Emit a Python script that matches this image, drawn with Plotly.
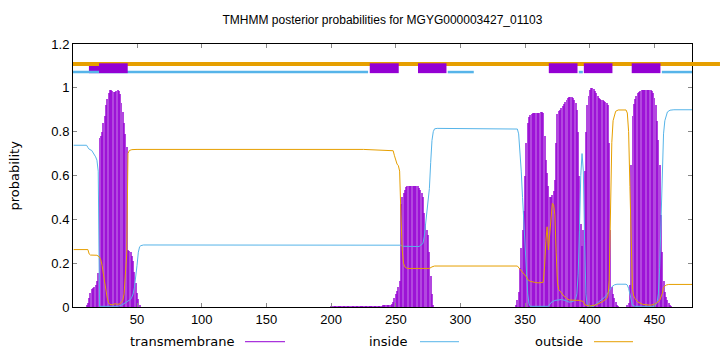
import plotly.graph_objects as go

# ---------------- data ----------------
seq_len = 479

# transmembrane posterior probability per residue (impulses)
tm_a_start = 11
tm_a_vals = [0.01, 0.02, 0.04, 0.065, 0.08, 0.088, 0.092, 0.10, 0.12, 0.155,
             0.77, 0.78, 0.80, 0.84, 0.87, 0.92, 0.95, 0.975, 0.99, 0.99,
             0.985, 0.983, 0.98, 0.985, 0.99, 0.985, 0.97, 0.93, 0.89, 0.84,
             0.79, 0.73, 0.26, 0.257, 0.25, 0.235, 0.21, 0.16, 0.11, 0.065,
             0.035, 0.01]

tm_b_start = 200
tm_b_vals = [0.003, 0.003, 0.003, 0.003, 0.003, 0.003, 0.003, 0.003, 0.003, 0.003,
             0.004, 0.004, 0.004, 0.004, 0.004, 0.004, 0.004, 0.004, 0.004, 0.004,
             0.004, 0.004, 0.004, 0.004, 0.004, 0.004, 0.004, 0.004, 0.004, 0.004,
             0.004, 0.004, 0.004, 0.004, 0.004, 0.004, 0.004, 0.004, 0.004, 0.004,
             0.005, 0.005, 0.006, 0.006, 0.007, 0.008, 0.01, 0.015, 0.025, 0.04,
             0.06, 0.075, 0.09, 0.12, 0.47, 0.50, 0.52, 0.535, 0.548, 0.552,
             0.553, 0.553, 0.553, 0.553, 0.552, 0.552, 0.551, 0.55, 0.545, 0.535,
             0.52, 0.50, 0.43, 0.38, 0.35, 0.33, 0.25, 0.14, 0.06, 0.01]

tm_c_start = 343
tm_c_vals = [0.01, 0.03, 0.07, 0.18, 0.27, 0.35, 0.44, 0.60, 0.75, 0.84,
             0.865, 0.878, 0.882, 0.884, 0.884, 0.884, 0.885, 0.885, 0.886, 0.888,
             0.888, 0.885, 0.78, 0.67, 0.61, 0.55, 0.50, 0.50, 0.51, 0.53,
             0.58, 0.75, 0.88, 0.895, 0.90, 0.91, 0.918, 0.925, 0.935, 0.945,
             0.952, 0.957, 0.96, 0.958, 0.953, 0.945, 0.93, 0.90, 0.80, 0.60,
             0.38, 0.28, 0.35, 0.62, 0.80, 0.92, 0.965, 0.99, 0.997, 0.998,
             0.995, 0.985, 0.975, 0.965, 0.955, 0.95, 0.946, 0.943, 0.94, 0.936,
             0.93, 0.92, 0.75, 0.35, 0.09, 0.06, 0.04, 0.025, 0.01, 0.003]

tm_d_start = 429
tm_d_vals = [0.005, 0.02, 0.10, 0.65, 0.87, 0.925, 0.95, 0.965, 0.975, 0.98,
             0.985, 0.988, 0.99, 0.991, 0.991, 0.991, 0.991, 0.99, 0.988, 0.985,
             0.976, 0.955, 0.92, 0.85, 0.76, 0.65, 0.42, 0.25, 0.12, 0.07,
             0.045, 0.03, 0.018, 0.01, 0.004]

# inside probability (line), sampled residues
inside_pos = [1, 11, 12, 13, 15, 16, 18, 19, 20, 21, 35, 38, 41, 43, 45, 46, 47, 48,
              49, 50, 51, 52, 53, 55, 254, 255, 268, 270, 271, 272, 273, 274, 275,
              276, 277, 278, 279, 280, 282, 343, 344, 345, 346, 347, 348, 349, 350,
              351, 352, 353, 354, 368, 370, 373, 378, 381, 384, 387, 389, 390, 391,
              392, 393, 394, 395, 396, 397, 398, 403, 405, 408, 411, 413, 415, 417,
              419, 421, 428, 429, 430, 431, 432, 433, 435, 450, 452, 453, 454, 455,
              456, 457, 458, 459, 460, 462, 465, 479]
inside_val = [0.738, 0.738, 0.728, 0.72, 0.714, 0.705, 0.685, 0.67, 0.62, 0.003,
              0.003, 0.008, 0.02, 0.025, 0.035, 0.045, 0.06, 0.09, 0.13, 0.19,
              0.25, 0.275, 0.28, 0.283, 0.282, 0.277, 0.276, 0.285, 0.29, 0.32,
              0.38, 0.43, 0.48, 0.54, 0.66, 0.76, 0.80, 0.813, 0.815, 0.815,
              0.812, 0.79, 0.72, 0.62, 0.50, 0.40, 0.27, 0.15, 0.06, 0.015,
              0.003, 0.003, 0.02, 0.03, 0.034, 0.03, 0.022, 0.025, 0.035, 0.06,
              0.15, 0.35, 0.60, 0.70, 0.62, 0.30, 0.06, 0.005, 0.003, 0.015,
              0.028, 0.042, 0.055, 0.075, 0.092, 0.101, 0.104, 0.104, 0.10, 0.085,
              0.055, 0.025, 0.008, 0.003, 0.003, 0.02, 0.06, 0.18, 0.40, 0.64,
              0.79, 0.85, 0.875, 0.89, 0.898, 0.9, 0.9]

# outside probability (line), sampled residues
outside_pos = [1, 12, 13, 14, 19, 20, 21, 22, 23, 24, 25, 26, 27, 28, 29, 31, 33, 35,
               37, 39, 40, 41, 42, 43, 44, 46, 50, 225, 245, 248, 249, 250, 251, 252,
               253, 254, 255, 256, 257, 259, 276, 278, 280, 344, 345, 347, 349, 351,
               352, 354, 357, 360, 364, 365, 366, 367, 368, 369, 370, 371, 372, 373,
               374, 375, 376, 378, 380, 382, 384, 392, 395, 396, 400, 405, 410, 413,
               414, 415, 416, 417, 418, 419, 420, 422, 428, 429, 430, 431, 432, 433,
               434, 435, 437, 441, 447, 451, 454, 456, 457, 459, 461, 479]
outside_val = [0.262, 0.262, 0.242, 0.237, 0.236, 0.232, 0.228, 0.215, 0.19, 0.15,
               0.11, 0.075, 0.04, 0.02, 0.012, 0.01, 0.015, 0.012, 0.015, 0.03,
               0.06, 0.15, 0.24, 0.70, 0.714, 0.718, 0.719, 0.719, 0.716, 0.713,
               0.69, 0.665, 0.652, 0.645, 0.62, 0.42, 0.26, 0.20, 0.183, 0.176,
               0.176, 0.183, 0.187, 0.187, 0.18, 0.17, 0.155, 0.137, 0.125, 0.117,
               0.113, 0.11, 0.113, 0.18, 0.30, 0.366, 0.26, 0.33, 0.44, 0.473,
               0.468, 0.42, 0.25, 0.11, 0.08, 0.063, 0.05, 0.04, 0.032, 0.03,
               0.025, 0.01, 0.004, 0.01, 0.025, 0.038, 0.05, 0.12, 0.45, 0.75,
               0.85, 0.88, 0.893, 0.899, 0.899, 0.885, 0.80, 0.55, 0.28, 0.08,
               0.05, 0.038, 0.023, 0.012, 0.008, 0.015, 0.03, 0.061, 0.09, 0.1,
               0.103, 0.103]

# predicted topology bars at the top (start, end in residues)
tm_boxes = [(20.6, 42.8), (229.9, 252.3), (267.2, 289.2), (368.3, 390.5),
            (395.4, 417.5), (432.4, 454.6)]
tm_box_under = [(12.8, 20.6)]
inside_bars = [(0.5, 228.6), (290.2, 310.3), (391.5, 394.6), (455.7, 479.0)]
outside_bar_level = 1.109
inside_bar_level = 1.072
tm_box_low, tm_box_high = 1.067, 1.112

x_ticks = [50, 100, 150, 200, 250, 300, 350, 400, 450]
y_ticks = [0, 0.2, 0.4, 0.6, 0.8, 1.0, 1.2]
y_tick_text = ["0", "0.2", "0.4", "0.6", "0.8", "1", "1.2"]

title_text = "TMHMM posterior probabilities for MGYG000003427_01103"
legend_names = ["transmembrane", "inside", "outside"]

# ---------------- styling ----------------
C_TM = "#9400D3"
C_IN = "#56B4E9"
C_OUT = "#E69F00"
FONT = "Liberation Sans"
FONT2 = "DejaVu Sans"

tm_pos, tm_val = [], []
for start, vals in [(tm_a_start, tm_a_vals), (tm_b_start, tm_b_vals),
                    (tm_c_start, tm_c_vals), (tm_d_start, tm_d_vals)]:
    tm_pos += list(range(start, start + len(vals)))
    tm_val += vals

fig = go.Figure()
fig.add_trace(go.Bar(x=tm_pos, y=tm_val, width=0.75,
                     marker=dict(color=C_TM, opacity=0.72, line=dict(width=0)),
                     showlegend=False, hoverinfo="skip"))
fig.add_trace(go.Scatter(x=inside_pos, y=inside_val, mode="lines",
                         line=dict(color=C_IN, width=1), showlegend=False))
fig.add_trace(go.Scatter(x=outside_pos, y=outside_val, mode="lines",
                         line=dict(color=C_OUT, width=1), showlegend=False))

shapes = []
for s, e in tm_box_under:
    shapes.append(dict(type="rect", xref="x", yref="y", x0=s, x1=e,
                       y0=tm_box_low, y1=tm_box_high, fillcolor=C_TM,
                       line=dict(width=0), layer="above"))
shapes.append(dict(type="line", xref="paper", yref="y", x0=0, x1=1.0452,
                   y0=outside_bar_level, y1=outside_bar_level,
                   line=dict(color=C_OUT, width=4), layer="above"))
for s, e in inside_bars:
    shapes.append(dict(type="line", xref="x", yref="y", x0=s, x1=e,
                       y0=inside_bar_level, y1=inside_bar_level,
                       line=dict(color=C_IN, width=2.5), layer="above"))
for s, e in tm_boxes:
    shapes.append(dict(type="rect", xref="x", yref="y", x0=s, x1=e,
                       y0=tm_box_low, y1=tm_box_high, fillcolor=C_TM,
                       line=dict(width=0), layer="above"))

# legend (gnuplot style: text then line sample) placed below the plot
leg_text_x = [0.2650, 0.5444, 0.8271]
leg_line_x = [(0.2779, 0.3425), (0.5606, 0.6236), (0.8417, 0.9047)]
leg_colors = [C_TM, C_IN, C_OUT]
leg_y = -0.132
annotations = []
for name, tx, (l0, l1), col in zip(legend_names, leg_text_x, leg_line_x, leg_colors):
    annotations.append(dict(text=name, x=tx, y=leg_y, xref="paper", yref="paper",
                            xanchor="right", yanchor="middle", showarrow=False,
                            font=dict(family=FONT2, size=13, color="#000")))
    shapes.append(dict(type="line", xref="paper", yref="paper", x0=l0, x1=l1,
                       y0=leg_y, y1=leg_y, line=dict(color=col, width=1)))

annotations.append(dict(text="probability", x=-0.0937, y=0.5, xref="paper",
                        yref="paper", textangle=-90, showarrow=False,
                        xanchor="center", yanchor="middle",
                        font=dict(family=FONT2, size=13, color="#000")))

fig.update_layout(
    width=720, height=352,
    margin=dict(l=73, r=28, t=44, b=45),
    paper_bgcolor="white", plot_bgcolor="white",
    title=dict(text=title_text, x=0.5, xref="paper", y=1 - 20 / 352,
               yref="container", xanchor="center", yanchor="middle",
               font=dict(family=FONT, size=12, color="#000")),
    font=dict(family=FONT, size=13, color="#000"),
    bargap=0,
    shapes=shapes,
    annotations=annotations,
    showlegend=False,
)
fig.update_xaxes(range=[0.5, seq_len], tickvals=x_ticks, showgrid=False,
                 zeroline=False, showline=True, linecolor="#000", linewidth=1,
                 mirror="allticks", ticks="inside", ticklen=4, tickcolor="#888",
                 tickfont=dict(family=FONT, size=13, color="#000"))
fig.update_yaxes(range=[0, 1.2], tickvals=y_ticks, ticktext=y_tick_text,
                 showgrid=False, zeroline=False, showline=True, linecolor="#000",
                 linewidth=1, mirror="allticks", ticks="inside", ticklen=4,
                 tickcolor="#888",
                 tickfont=dict(family=FONT, size=13, color="#000"))

fig.write_html("out.html")
